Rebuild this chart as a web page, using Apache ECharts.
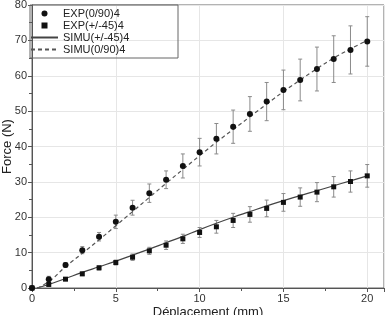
<!DOCTYPE html>
<html lang="en">
<head>
    <meta charset="UTF-8">
    <title>Force - Deplacement</title>
    <script src="https://cdn.jsdelivr.net/npm/echarts@6/dist/echarts.min.js"></script>
</head>
<body style="margin:0">
    <div id="main" style="width:391px;height:315px;"></div>
    <script>
        // deplacement (mm)
        var dispX = [0, 1, 2, 3, 4, 5, 6, 7, 8, 9, 10, 11, 12, 13, 14, 15, 16, 17, 18, 19, 20];
        // essais (0/90)4 : force moyenne et demi-ecart
        var exp090 = [0, 2.5, 6.5, 10.7, 14.5, 18.7, 22.7, 26.8, 30.6, 34.5, 38.4, 42.2, 45.6, 49.2, 52.7, 56.0, 58.8, 61.9, 64.7, 67.3, 69.7];
        var err090 = [0, 0.8, 0.7, 1.0, 1.2, 1.9, 2.1, 2.6, 2.5, 3.4, 3.9, 4.3, 4.7, 4.9, 5.4, 5.6, 5.9, 6.2, 6.6, 6.8, 7.0];
        // essais (+/-45)4
        var exp45 = [0, 1.0, 2.5, 4.0, 5.7, 7.2, 8.7, 10.5, 12.1, 13.9, 15.7, 17.3, 19.1, 20.8, 22.5, 24.2, 25.7, 27.1, 28.6, 30.1, 31.7];
        var err45 = [0, 0.4, 0.4, 0.5, 0.6, 0.7, 0.9, 1.0, 1.2, 1.3, 1.4, 1.8, 2.0, 2.2, 2.35, 2.5, 2.6, 2.7, 2.9, 3.0, 3.2];
        // simulations
        var simuX = [0.3, 1, 2, 3, 4, 5, 6, 7, 8, 9, 10, 11, 12, 13, 14, 15, 16, 17, 18, 19, 20];
        var simu45 = [0, 1.0, 2.7, 4.4, 6.0, 7.6, 9.3, 11.0, 12.8, 14.6, 16.5, 18.3, 20.0, 21.6, 23.2, 24.7, 26.1, 27.5, 28.9, 30.3, 31.7];
        var simu090 = [0, 1.8, 6.0, 9.8, 13.6, 17.6, 21.6, 25.6, 29.6, 33.5, 37.4, 41.2, 44.8, 48.4, 52.0, 55.5, 58.8, 62.0, 65.0, 67.6, 70.0];

        var legendNames = ['EXP(0/90)4', 'EXP(+/-45)4', 'SIMU(+/-45)4', 'SIMU(0/90)4'];

        function pairs(xs, ys) {
            return xs.map(function (x, i) { return [x, ys[i]]; });
        }
        function bars(ys, es) {
            return dispX.map(function (x, i) { return [x, ys[i] - es[i], ys[i] + es[i]]; });
        }

        // barres d'erreur
        function renderErr(params, api) {
            var lo = api.coord([api.value(0), api.value(1)]);
            var hi = api.coord([api.value(0), api.value(2)]);
            var w = 2;
            var st = { stroke: '#8a8a8a', lineWidth: 1 };
            return {
                type: 'group',
                children: [
                    { type: 'line', shape: { x1: lo[0], y1: lo[1], x2: hi[0], y2: hi[1] }, style: st },
                    { type: 'line', shape: { x1: lo[0] - w, y1: lo[1], x2: lo[0] + w, y2: lo[1] }, style: st },
                    { type: 'line', shape: { x1: hi[0] - w, y1: hi[1], x2: hi[0] + w, y2: hi[1] }, style: st }
                ]
            };
        }

        var myChart = echarts.init(document.getElementById('main'));
        var axisTxt = { color: '#333', fontSize: 11, fontFamily: 'Liberation Sans' };
        var hidden = { opacity: 0 };
        var option = {
            animation: false,
            backgroundColor: '#fff',
            grid: {
                left: 32, right: 7, top: 5, bottom: 27,
                outerBoundsMode: 'none', containLabel: false,
                show: true, borderColor: '#666', borderWidth: 1
            },
            legend: {
                data: [
                    { name: legendNames[0], icon: 'circle' },
                    { name: legendNames[1], icon: 'path://M0,0H1V1H0Z' },
                    { name: legendNames[2], itemStyle: hidden },
                    { name: legendNames[3], itemStyle: hidden }
                ],
                orient: 'vertical',
                left: 30, top: 5,
                itemWidth: 27, itemHeight: 6, itemGap: 1,
                padding: [3, 20, 3, 0],
                borderColor: '#666', borderWidth: 1,
                textStyle: { color: '#222', fontSize: 11, fontFamily: 'Liberation Sans', lineHeight: 11, width: 95 }
            },
            xAxis: {
                type: 'value', min: 0, max: 21, interval: 5,
                name: 'Déplacement (mm)', nameLocation: 'middle', nameGap: 18, nameMoveOverlap: false,
                nameTextStyle: { color: '#222', fontSize: 13, fontFamily: 'Liberation Sans' },
                axisLine: { lineStyle: { color: '#555' } },
                axisTick: { lineStyle: { color: '#555' }, length: 4 },
                minorTick: { show: true, splitNumber: 2, length: 3, lineStyle: { color: '#555' } },
                axisLabel: Object.assign({ margin: 5, showMaxLabel: false }, axisTxt),
                splitLine: { lineStyle: { color: '#e6e6e6' } }
            },
            yAxis: {
                type: 'value', min: 0, max: 80, interval: 10,
                name: 'Force (N)', nameLocation: 'middle', nameGap: 18, nameMoveOverlap: false,
                nameTextStyle: { color: '#222', fontSize: 13, fontFamily: 'Liberation Sans' },
                axisLine: { show: true, lineStyle: { color: '#555' } },
                axisTick: { show: true, lineStyle: { color: '#555' }, length: 4 },
                minorTick: { show: true, splitNumber: 2, length: 3, lineStyle: { color: '#555' } },
                axisLabel: Object.assign({ margin: 5 }, axisTxt),
                splitLine: { lineStyle: { color: '#e6e6e6' } }
            },
            series: [
                {
                    type: 'custom', renderItem: renderErr, data: bars(exp090, err090),
                    encode: { x: 0, y: [1, 2] }, z: 1, silent: true
                },
                {
                    type: 'custom', renderItem: renderErr, data: bars(exp45, err45),
                    encode: { x: 0, y: [1, 2] }, z: 1, silent: true
                },
                {
                    name: legendNames[2], type: 'line', data: pairs(simuX, simu45),
                    symbol: 'none', smooth: true, z: 2,
                    lineStyle: { color: '#444', width: 1.2 }, itemStyle: { color: '#444' }
                },
                {
                    name: legendNames[3], type: 'line', data: pairs(simuX, simu090),
                    symbol: 'none', smooth: true, z: 2,
                    lineStyle: { color: '#555', width: 1.2, type: [4, 3] }, itemStyle: { color: '#555' }
                },
                {
                    name: legendNames[0], type: 'scatter', data: pairs(dispX, exp090),
                    symbol: 'circle', symbolSize: 6, z: 3,
                    itemStyle: { color: '#111', opacity: 1 }
                },
                {
                    name: legendNames[1], type: 'scatter', data: pairs(dispX, exp45),
                    symbol: 'rect', symbolSize: 5, z: 3,
                    itemStyle: { color: '#111', opacity: 1 }
                }
            ]
        };
        myChart.setOption(option);
    </script>
</body>
</html>
